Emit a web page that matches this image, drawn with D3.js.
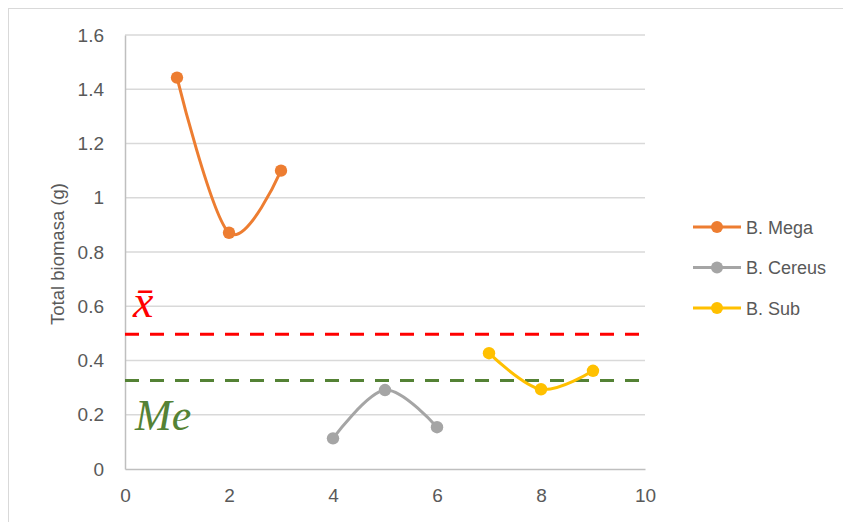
<!DOCTYPE html>
<html><head><meta charset="utf-8">
<script src="https://cdn.jsdelivr.net/npm/d3@7"></script>
<style>body{margin:0;background:#fff}svg{display:block}</style>
</head><body>
<svg id="c" width="843" height="522"></svg>
<script>
const seriesNames = ["B. Mega", "B. Cereus", "B. Sub"];
const seriesColors = ["#ED7D31", "#A5A5A5", "#FFC000"];
const megaX = [1, 2, 3];
const megaY = [1.443, 0.871, 1.10];
const cereusX = [4, 5, 6];
const cereusY = [0.113, 0.291, 0.154];
const subX = [7, 8, 9];
const subY = [0.427, 0.294, 0.362];
const meanValue = 0.497;
const medianValue = 0.326;
const yTicks = [0, 0.2, 0.4, 0.6, 0.8, 1, 1.2, 1.4, 1.6];
const xTicks = [0, 2, 4, 6, 8, 10];

const series = [
  {name: seriesNames[0], color: seriesColors[0], pts: megaX.map((x,i)=>[x, megaY[i]])},
  {name: seriesNames[1], color: seriesColors[1], pts: cereusX.map((x,i)=>[x, cereusY[i]])},
  {name: seriesNames[2], color: seriesColors[2], pts: subX.map((x,i)=>[x, subY[i]])}
];

const svg = d3.select("#c");
const font = "'Liberation Sans', Arial, sans-serif";
const txt = "#595959";

svg.append("rect").attr("x",8.5).attr("y",8.5).attr("width",900).attr("height",600)
  .attr("fill","#fff").attr("stroke","#D9D9D9").attr("stroke-width",1);

const x = d3.scaleLinear().domain([0,10]).range([125,645]);
const y = d3.scaleLinear().domain([0,1.6]).range([469,35]);

// gridlines
svg.append("g").selectAll("line").data(yTicks.filter(d=>d>0)).join("line")
  .attr("x1",x(0)).attr("x2",x(10)).attr("y1",d=>y(d)).attr("y2",d=>y(d))
  .attr("stroke","#D9D9D9").attr("stroke-width",1.3);

// axes
const yAxis = svg.append("g").attr("transform",`translate(${x(0)},0)`)
  .call(d3.axisLeft(y).tickValues(yTicks).tickSize(0).tickPadding(21).tickFormat(d=>String(+d.toFixed(1))));
const xAxis = svg.append("g").attr("transform",`translate(0,${y(0)})`)
  .call(d3.axisBottom(x).tickValues(xTicks).tickSize(0).tickPadding(20).tickFormat(d=>String(d)));
[yAxis,xAxis].forEach(a=>{
  a.select(".domain").attr("stroke","#BFBFBF").attr("stroke-width",1.5);
  a.selectAll("text").attr("font-family",font).attr("font-size",19).attr("fill",txt);
});

// y title
svg.append("text").attr("transform",`translate(64,254) rotate(-90)`)
  .attr("text-anchor","middle").attr("font-family",font).attr("font-size",18.5).attr("fill",txt)
  .text("Total biomasa (g)");

// reference lines
svg.append("line").attr("x1",x(0)).attr("x2",x(10)).attr("y1",y(meanValue)).attr("y2",y(meanValue))
  .attr("stroke","#FF0000").attr("stroke-width",3).attr("stroke-dasharray","14,11");
svg.append("line").attr("x1",x(0)).attr("x2",x(10)).attr("y1",y(medianValue)).attr("y2",y(medianValue))
  .attr("stroke","#548235").attr("stroke-width",3).attr("stroke-dasharray","14,11");

svg.append("text").attr("x",133).attr("y",317).attr("font-family","'Liberation Serif', serif")
  .attr("font-style","italic").attr("font-size",46).attr("fill","#FF0000").text("x\u0304");
svg.append("text").attr("x",135).attr("y",430).attr("font-family","'Liberation Serif', serif")
  .attr("font-style","italic").attr("font-size",44).attr("fill","#548235").text("Me");

// series
const line = d3.line().x(d=>x(d[0])).y(d=>y(d[1])).curve(d3.curveCatmullRom.alpha(0));
series.forEach(s=>{
  svg.append("path").attr("d",line(s.pts)).attr("fill","none").attr("stroke",s.color)
    .attr("stroke-width",3).attr("stroke-linecap","round");
  svg.append("g").selectAll("circle").data(s.pts).join("circle")
    .attr("cx",d=>x(d[0])).attr("cy",d=>y(d[1])).attr("r",6.2).attr("fill",s.color);
});

// legend
const lg = svg.append("g");
series.forEach((s,i)=>{
  const ly = 227 + i*40.5;
  lg.append("line").attr("x1",693).attr("x2",741).attr("y1",ly).attr("y2",ly)
    .attr("stroke",s.color).attr("stroke-width",3);
  lg.append("circle").attr("cx",717).attr("cy",ly).attr("r",6).attr("fill",s.color);
  lg.append("text").attr("x",746).attr("y",ly+6.5).attr("font-family",font).attr("font-size",18)
    .attr("fill",txt).text(s.name);
});
</script>
</body></html>
